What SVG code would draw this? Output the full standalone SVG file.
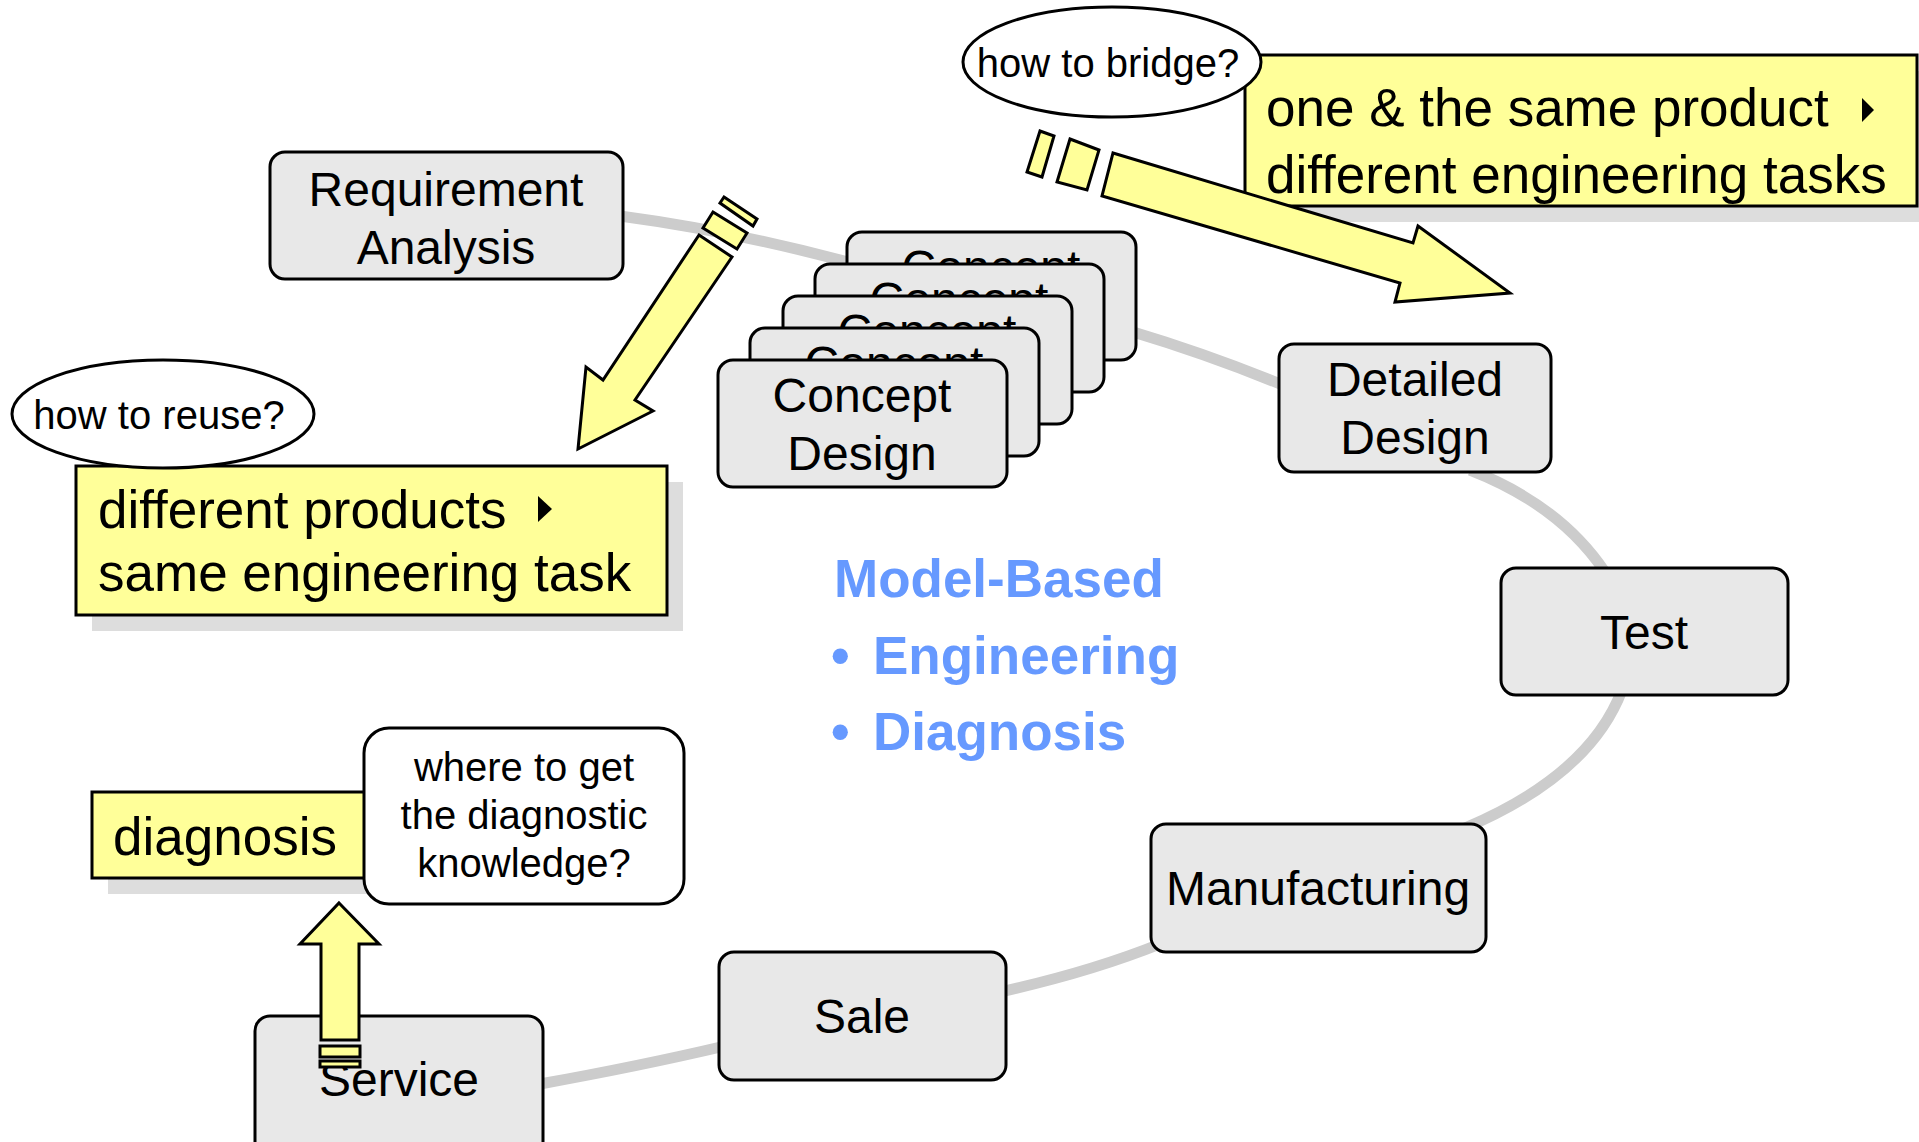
<svg xmlns="http://www.w3.org/2000/svg" width="1919" height="1142" viewBox="0 0 1919 1142">
<style>
.node rect{fill:#e8e8e8;stroke:#000;stroke-width:3}
.lbl{font-family:"Liberation Sans",Arial,sans-serif;font-size:48px;text-anchor:middle;fill:#000}
.conn{fill:none;stroke:#cccccc;stroke-width:11}
.note{fill:#ffff99;stroke:#000;stroke-width:3}
.shadow{fill:#dddddd}
.big{font-family:"Liberation Sans",Arial,sans-serif;font-size:53px;fill:#000}
.q{font-family:"Liberation Sans",Arial,sans-serif;font-size:40px;fill:#000;text-anchor:middle}
.bubble{fill:#fff;stroke:#000;stroke-width:3}
.arrow{fill:#ffff99;stroke:#000;stroke-width:3;stroke-linejoin:miter}
.tri{fill:#000}
.mb{font-family:"Liberation Sans",Arial,sans-serif;font-size:53px;font-weight:bold;fill:#6699ff}
</style>
<rect width="1919" height="1142" fill="#fff"/>
<g id="connectors">
<path class="conn" d="M 620 216 Q 740 232 870 268"/>
<path class="conn" d="M 1130 331 Q 1210 355 1285 386"/>
<path class="conn" d="M 1470 470 Q 1560 505 1605 572"/>
<path class="conn" d="M 1622 690 Q 1590 775 1465 828"/>
<path class="conn" d="M 1160 944 Q 1090 972 1000 992"/>
<path class="conn" d="M 725 1046 Q 640 1066 540 1084"/>
</g>
<g id="requirement-analysis" class="node">
<rect x="270" y="152" width="353" height="127" rx="15"/>
<text class="lbl" x="446" y="206">Requirement</text>
<text class="lbl" x="446" y="264">Analysis</text>
</g>
<g id="concept-design-stack" class="node">
<g id="concept-design-5"><rect x="847" y="232" width="289" height="128" rx="15"/><text class="lbl" x="991" y="284">Concept</text></g>
<g id="concept-design-4"><rect x="815" y="264" width="289" height="128" rx="15"/><text class="lbl" x="959" y="316">Concept</text></g>
<g id="concept-design-3"><rect x="783" y="296" width="289" height="128" rx="15"/><text class="lbl" x="927" y="348">Concept</text></g>
<g id="concept-design-2"><rect x="750" y="328" width="289" height="128" rx="15"/><text class="lbl" x="894" y="380">Concept</text></g>
<g id="concept-design"><rect x="718" y="360" width="289" height="127" rx="15"/><text class="lbl" x="862" y="412">Concept</text><text class="lbl" x="862" y="470">Design</text></g>
</g>
<g id="detailed-design" class="node">
<rect x="1279" y="344" width="272" height="128" rx="15"/>
<text class="lbl" x="1415" y="396">Detailed</text>
<text class="lbl" x="1415" y="454">Design</text>
</g>
<g id="test" class="node">
<rect x="1501" y="568" width="287" height="127" rx="15"/>
<text class="lbl" x="1644" y="649">Test</text>
</g>
<g id="manufacturing" class="node">
<rect x="1151" y="824" width="335" height="128" rx="15"/>
<text class="lbl" x="1318" y="905">Manufacturing</text>
</g>
<g id="sale" class="node">
<rect x="719" y="952" width="287" height="128" rx="15"/>
<text class="lbl" x="862" y="1033">Sale</text>
</g>
<g id="service" class="node">
<rect x="255" y="1016" width="288" height="150" rx="15"/>
<text class="lbl" x="399" y="1096">Service</text>
</g>
<g id="note-reuse">
<rect class="shadow" x="92" y="482" width="591" height="149"/>
<rect class="note" x="76" y="466" width="591" height="149"/>
<text class="big" x="98" y="528">different products</text>
<polygon class="tri" points="538,496 552,509 538,522"/>
<text class="big" x="98" y="591">same engineering task</text>
</g>
<g id="note-bridge">
<rect class="shadow" x="1261" y="71" width="672" height="151"/>
<rect class="note" x="1245" y="55" width="672" height="151"/>
<text class="big" x="1266" y="126">one &amp; the same product</text>
<polygon class="tri" points="1862,98 1874,110 1862,122"/>
<text class="big" x="1266" y="193">different engineering tasks</text>
</g>
<g id="note-diagnosis">
<rect class="shadow" x="108" y="808" width="272" height="86"/>
<rect class="note" x="92" y="792" width="288" height="86"/>
<text class="big" x="113" y="855">diagnosis</text>
</g>
<g id="question-knowledge">
<rect class="bubble" x="364" y="728" width="320" height="176" rx="25"/>
<text class="q" x="524" y="781">where to get</text>
<text class="q" x="524" y="829">the diagnostic</text>
<text class="q" x="524" y="877">knowledge?</text>
</g>
<g id="question-reuse">
<ellipse class="bubble" cx="163" cy="414" rx="151" ry="54"/>
<text class="q" x="159" y="429">how to reuse?</text>
</g>
<g id="question-bridge">
<ellipse class="bubble" cx="1112" cy="62" rx="149" ry="55"/>
<text class="q" x="1108" y="77">how to bridge?</text>
</g>
<g id="model-based">
<text class="mb" x="834" y="597">Model-Based</text>
<text class="mb" y="674"><tspan x="831">•</tspan><tspan x="873">Engineering</tspan></text>
<text class="mb" y="750"><tspan x="831">•</tspan><tspan x="873">Diagnosis</tspan></text>
</g>
<g id="arrows">
<g id="arrow-reuse">
<polygon class="arrow" points="724,197 757,219 753,226 720,203"/>
<polygon class="arrow" points="713,212 747,233 737,249 703,228"/>
<polygon class="arrow" points="699,235 732,257 635,400 653,411 578,449 586,367 603,380"/>
</g>
<g id="arrow-bridge">
<polygon class="arrow" points="1040,131 1054,136 1042,177 1027,172"/>
<polygon class="arrow" points="1070,139 1099,150 1087,190 1057,182"/>
<polygon class="arrow" points="1113,153 1413,243 1418,226 1510,293 1395,302 1400,283 1102,196"/>
</g>
<g id="arrow-diagnosis">
<polygon class="arrow" points="339,903 379,944 359,944 359,1040 321,1040 321,944 300,944"/>
<rect class="arrow" x="320" y="1046" width="40" height="11"/>
<rect class="arrow" x="320" y="1061" width="40" height="6"/>
</g>
</g>
</svg>
